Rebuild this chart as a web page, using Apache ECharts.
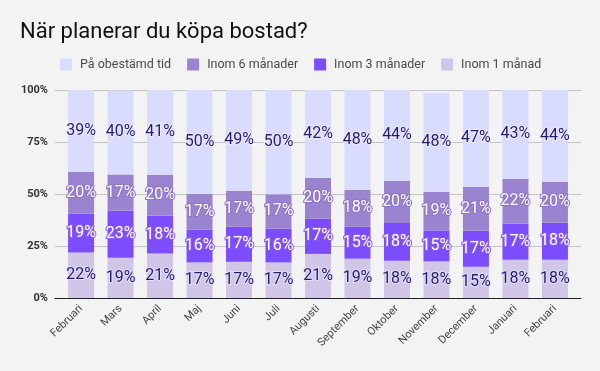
<!DOCTYPE html>
<html>
<head>
<meta charset="utf-8">
<script src="https://cdn.jsdelivr.net/npm/echarts@6/dist/echarts.min.js"></script>
<style>
html,body{margin:0;padding:0;background:#f3f3f3;}
#chart{width:600px;height:371px;}
</style>
</head>
<body>
<div id="chart"></div>
<script>
const months = ["Februari","Mars","April","Maj","Juni","Juli","Augusti","September","Oktober","November","December","Januari","Februari"];
const inom1 = [21.9, 19.4, 21.4, 17.1, 17.4, 17.1, 21.2, 18.9, 17.9, 17.6, 15.0, 18.4, 18.4];
const inom3 = [18.6, 22.6, 18.1, 15.7, 16.9, 16.2, 16.9, 15.4, 18.2, 14.9, 17.3, 17.3, 17.8];
const inom6 = [20.2, 17.4, 19.8, 17.3, 17.2, 16.6, 19.6, 17.6, 20.2, 18.6, 21.1, 21.6, 19.7];
const obestamd = [39.3, 40.4, 40.7, 49.9, 48.5, 50.1, 42.3, 48.1, 43.7, 47.6, 46.6, 42.7, 44.1];
const yTicks = [0, 25, 50, 75, 100];
const seriesNames = ["Inom 1 månad","Inom 3 månader","Inom 6 månader","På obestämd tid"];

const colors = ["#d1c6e8","#7c4dff","#9a84cf","#d9dbff"];
const labelStyles = [
  {color:"#241b73", textBorderColor:"#e4def4", textBorderWidth:2},
  {color:"#ffffff", textBorderColor:"#8a5cf0", textBorderWidth:2},
  {color:"#ffffff", textBorderColor:"#8d73cc", textBorderWidth:2},
  {color:"#241b73", textBorderColor:"#ecebff", textBorderWidth:2}
];
const dataSets = [inom1, inom3, inom6, obestamd];

const chart = echarts.init(document.getElementById('chart'), null, {renderer:'canvas'});
const option = {
  backgroundColor: '#f3f3f3',
  animation: false,
  title: {
    text: 'När planerar du köpa bostad?',
    left: 20, top: 21, padding: 0,
    textStyle: {fontFamily:'Roboto', fontSize:22, fontWeight:'normal', color:'#111'}
  },
  legend: {
    data: seriesNames.slice().reverse(),
    left: 60, top: 58, padding: 0,
    icon: 'rect', itemWidth: 12, itemHeight: 12, itemGap: 16,
    textStyle: {fontFamily:'Roboto', fontSize:12.5, color:'#4a4a4a', padding:[0,0,0,3]}
  },
  grid: {left: 55, right: 19, top: 90, bottom: 73, containLabel: false},
  xAxis: {
    type: 'value',
    min: -0.66, max: 12.66,
    splitLine: {show:false},
    axisTick: {show:false},
    axisLine: {show:true, lineStyle:{color:'#222', width:1}},
    axisLabel: {
      customValues: months.map((m,i)=>i),
      formatter: v => months[v],
      rotate: 45, margin: 9,
      fontFamily:'Roboto', fontSize:11, color:'#444'
    }
  },
  yAxis: {
    type: 'value', min: 0, max: 100, interval: 25,
    axisLine: {show:false}, axisTick: {show:false},
    splitLine: {lineStyle:{color:'#c4c4c4'}},
    axisLabel: {formatter:'{value}%', fontFamily:'Roboto', fontSize:11, fontWeight:'bold', color:'#333', margin:7}
  },
  series: seriesNames.map((name, k) => ({
    name, type: 'bar', stack: 'total', barWidth: 26,
    itemStyle: {color: colors[k]},
    encode: {x: 1, y: 0},
    data: dataSets[k].map((v,i)=>[v, i]),
    label: Object.assign({
      show: true, position: 'inside',
      fontFamily:'Roboto', fontSize:16,
      formatter: p => Math.round(p.value[0]) + '%'
    }, labelStyles[k])
  }))
};
chart.setOption(option);
</script>
</body>
</html>
